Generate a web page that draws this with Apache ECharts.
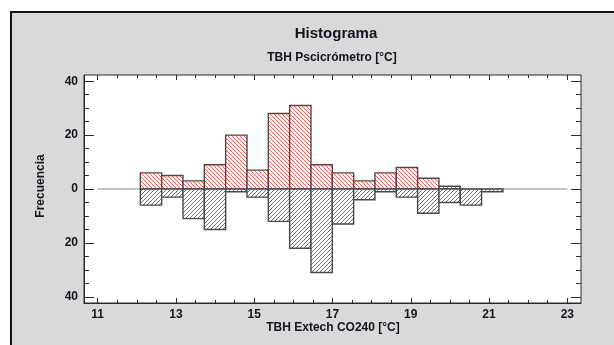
<!DOCTYPE html>
<html>
<head>
<meta charset="utf-8">
<script src="https://cdn.jsdelivr.net/npm/echarts@6/dist/echarts.min.js"></script>
<style>
html, body { margin: 0; padding: 0; background: #ffffff; }
#chart { width: 614px; height: 345px; }
</style>
</head>
<body>
<div id="chart"></div>
<script>
// Histogram bin edges (°C)
const binEdges = [12.09, 12.635, 13.18, 13.725, 14.27, 14.815, 15.36, 15.905, 16.45,
                  16.995, 17.54, 18.085, 18.63, 19.175, 19.72, 20.265, 20.81, 21.355];
// Counts per bin: TBH Pscicrómetro (upper, red) and TBH Extech CO240 (lower, blue)
const psicrometroCounts = [6, 5, 3, 9, 20, 7, 28, 31, 9, 6, 3, 6, 8, 4, 1, 0, 0];
const extechCounts      = [6, 3, 11, 15, 1, 3, 12, 22, 31, 13, 4, 1, 3, 9, 5, 6, 1];

const xTickLabels = [11, 13, 15, 17, 19, 21, 23];
const xMinorTicks = [11, 11.5, 12, 12.5, 13, 13.5, 14, 14.5, 15, 15.5, 16, 16.5, 17,
                     17.5, 18, 18.5, 19, 19.5, 20, 20.5, 21, 21.5, 22, 22.5, 23];
const yTickLabels = [-40, -20, 0, 20, 40];
const yMinorTicks = [-40, -35, -30, -25, -20, -15, -10, -5, 0, 5, 10, 15, 20, 25, 30, 35, 40];

const X_MIN = 10.65, X_MAX = 23.35;
const Y_MIN = -42.3, Y_MAX = 42.3;
const FONT = '"Liberation Sans", Arial, sans-serif';
const TEXT = '#141420';
const HATCH_GAP = 4;
const HATCH_COLORS = ['#ff4a4a', '#5050d8'];

// Diagonal hatch segments clipped to a rectangle, as one path.
// back = true draws "\" strokes, otherwise "/" strokes.
function hatchPath(x0, y0, x1, y1, back) {
  let d = '';
  if (back) {
    const kStart = Math.ceil((x0 - y1) / HATCH_GAP) * HATCH_GAP;
    for (let k = kStart; k <= x1 - y0; k += HATCH_GAP) {
      const ax = Math.max(x0, y0 + k), bx = Math.min(x1, y1 + k);
      if (bx - ax < 0.3) continue;
      d += 'M' + ax.toFixed(2) + ' ' + (ax - k).toFixed(2) +
           'L' + bx.toFixed(2) + ' ' + (bx - k).toFixed(2);
    }
  } else {
    const kStart = Math.ceil((x0 + y0) / HATCH_GAP) * HATCH_GAP;
    for (let k = kStart; k <= x1 + y1; k += HATCH_GAP) {
      const ax = Math.max(x0, k - y1), bx = Math.min(x1, k - y0);
      if (bx - ax < 0.3) continue;
      d += 'M' + ax.toFixed(2) + ' ' + (k - ax).toFixed(2) +
           'L' + bx.toFixed(2) + ' ' + (k - bx).toFixed(2);
    }
  }
  return d;
}

// Both histograms share one data table: [binStart, binEnd, signedCount, group]
const barTable = []
  .concat(psicrometroCounts.map((v, i) => [binEdges[i], binEdges[i + 1], v, 0]))
  .concat(extechCounts.map((v, i) => [binEdges[i], binEdges[i + 1], -v, 1]));

function xAxisDef(position, ticks, len, labels) {
  return {
    type: 'value', min: X_MIN, max: X_MAX, position: position,
    gridIndex: 0,
    axisLine: { show: labels, onZero: false, lineStyle: { color: '#2a2a2a', width: 1 } },
    splitLine: { show: false },
    axisTick: { show: true, inside: true, length: len, customValues: ticks,
                lineStyle: { color: '#2a2a2a', width: 1 } },
    axisLabel: labels
      ? { show: true, customValues: xTickLabels, margin: 6, color: TEXT,
          fontFamily: FONT, fontWeight: 'bold', fontSize: 12 }
      : { show: false }
  };
}

function yAxisDef(position, ticks, len, labels) {
  return {
    type: 'value', min: Y_MIN, max: Y_MAX, position: position,
    gridIndex: 0,
    axisLine: { show: labels, onZero: false, lineStyle: { color: '#2a2a2a', width: 1 } },
    splitLine: { show: false },
    axisTick: { show: true, inside: true, length: len, customValues: ticks,
                lineStyle: { color: '#2a2a2a', width: 1 } },
    axisLabel: labels
      ? { show: true, customValues: yTickLabels, margin: 6, color: TEXT,
          fontFamily: FONT, fontWeight: 'bold', fontSize: 12,
          formatter: v => String(Math.abs(v)) }
      : { show: false }
  };
}

const chart = echarts.init(document.getElementById('chart'), null, { renderer: 'canvas' });

chart.setOption({
  backgroundColor: '#ffffff',
  animation: false,
  graphic: [
    {
      type: 'rect', z: -10,
      shape: { x: 11, y: 12, width: 660, height: 400 },
      style: { fill: '#d9d9d9', stroke: '#111111', lineWidth: 2 }
    },
    {
      type: 'text', z: 10,
      style: { text: 'Histograma', font: 'bold 15px ' + FONT, fill: TEXT, x: 336, y: 34,
               align: 'center', verticalAlign: 'middle' }
    },
    {
      type: 'text', z: 10,
      style: { text: 'TBH Pscicrómetro [°C]', font: 'bold 12px ' + FONT, fill: TEXT,
               x: 332, y: 58, align: 'center', verticalAlign: 'middle' }
    },
    {
      type: 'text', z: 10,
      style: { text: 'TBH Extech CO240 [°C]', font: 'bold 12px ' + FONT, fill: TEXT,
               x: 333, y: 328, align: 'center', verticalAlign: 'middle' }
    },
    {
      type: 'text', z: 10,
      x: 41, y: 186, rotation: Math.PI / 2,
      style: { text: 'Frecuencia', font: 'bold 12px ' + FONT, fill: TEXT,
               x: 0, y: 0, align: 'center', verticalAlign: 'middle' }
    }
  ],
  grid: {
    left: 84, top: 75, right: 33, bottom: 42,
    show: true, backgroundColor: '#ffffff', borderColor: '#2a2a2a', borderWidth: 1
  },
  xAxis: [
    xAxisDef('bottom', xTickLabels, 5, true),
    xAxisDef('bottom', xMinorTicks, 3, false),
    xAxisDef('top', xTickLabels, 5, false),
    xAxisDef('top', xMinorTicks, 3, false)
  ],
  yAxis: [
    yAxisDef('left', yTickLabels, 10, true),
    yAxisDef('left', yMinorTicks, 5, false),
    yAxisDef('right', yTickLabels, 10, false),
    yAxisDef('right', yMinorTicks, 5, false)
  ],
  series: [
    {
      type: 'line', xAxisIndex: 0, yAxisIndex: 0, z: 2,
      data: [[11, 0], [23, 0]], symbol: 'none',
      lineStyle: { color: '#8a8a8a', width: 1.2 }
    },
    {
      name: 'Histograma',
      type: 'custom',
      xAxisIndex: 0,
      yAxisIndex: 0,
      data: barTable,
      encode: { x: [0, 1], y: 2 },
      z: 3,
      renderItem: function (params, api) {
        const v = api.value(2);
        if (v === 0) return null;
        const group = api.value(3);
        const p0 = api.coord([api.value(0), v]);
        const p1 = api.coord([api.value(1), 0]);
        const x0 = p0[0], x1 = p1[0];
        const y0 = Math.min(p0[1], p1[1]), y1 = Math.max(p0[1], p1[1]);
        const d = hatchPath(x0, y0, x1, y1, group === 0);
        const children = [
          { type: 'rect', shape: { x: x0, y: y0, width: x1 - x0, height: y1 - y0 },
            style: { fill: '#ffffff' } }
        ];
        if (d) {
          children.push({ type: 'path', shape: { pathData: d },
                          style: { fill: 'none', stroke: HATCH_COLORS[group], lineWidth: 0.9 } });
        }
        children.push({
          type: 'rect', shape: { x: x0, y: y0, width: x1 - x0, height: y1 - y0 },
          style: { fill: 'none', stroke: '#4a4a4a', lineWidth: 1.4 }
        });
        return { type: 'group', children: children };
      }
    }
  ]
});
</script>
</body>
</html>
